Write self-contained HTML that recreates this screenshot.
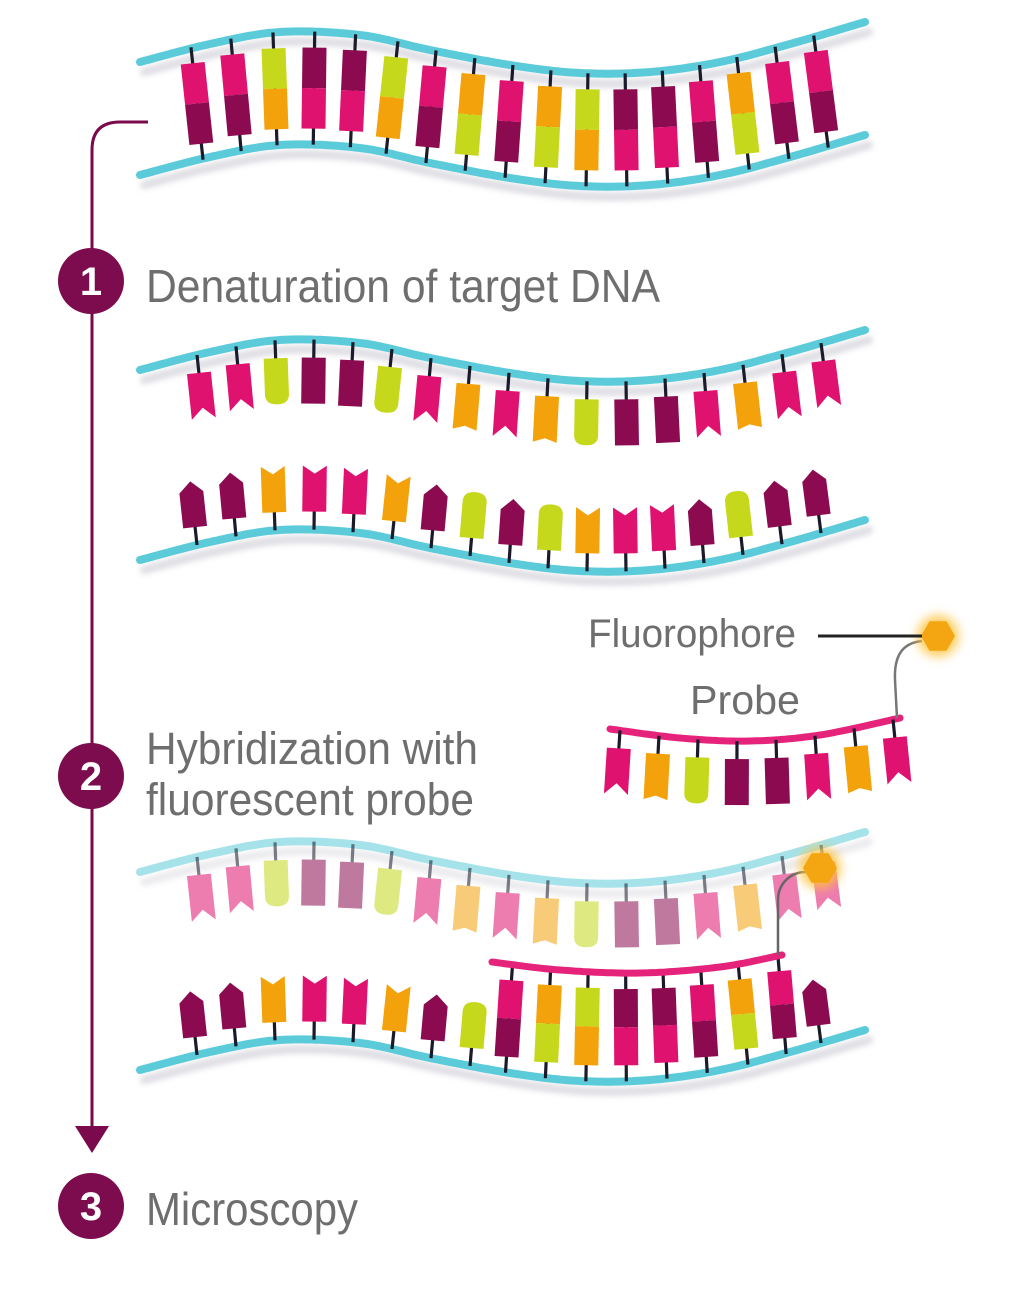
<!DOCTYPE html>
<html><head><meta charset="utf-8"><style>
html,body{margin:0;padding:0;background:#fff;width:1028px;height:1306px;overflow:hidden}
svg{display:block}
text{font-family:"Liberation Sans",Arial,sans-serif}
</style></head><body>
<svg id="s" width="1028" height="1306" viewBox="0 0 1028 1306" xmlns="http://www.w3.org/2000/svg">
<defs>
<filter id="sh" x="-10%" y="-50%" width="120%" height="300%"><feGaussianBlur stdDeviation="3"/></filter>
<filter id="gl" x="-100%" y="-100%" width="300%" height="300%"><feGaussianBlur stdDeviation="5"/></filter>
</defs>
<g id="g"></g>
<path d="M148,122 L120,122 Q92,122 92,150 L92,1130" fill="none" stroke="#7a0a4b" stroke-width="3"/>
<polygon points="75,1126 109,1126 92,1153" fill="#7a0a4b"/>
<circle cx="91" cy="281" r="33" fill="#7d0c4e"/>
<circle cx="91" cy="776" r="33" fill="#7d0c4e"/>
<circle cx="91" cy="1206" r="33" fill="#7d0c4e"/>
<text x="91" y="295" text-anchor="middle" fill="#fff" font-weight="bold" font-size="40">1</text>
<text x="91" y="790" text-anchor="middle" fill="#fff" font-weight="bold" font-size="40">2</text>
<text x="91" y="1220" text-anchor="middle" fill="#fff" font-weight="bold" font-size="40">3</text>
<g fill="#6e6e6e">
<text x="146" y="302" font-size="46" textLength="514" lengthAdjust="spacingAndGlyphs">Denaturation of target DNA</text>
<text x="146" y="764" font-size="45" textLength="332" lengthAdjust="spacingAndGlyphs">Hybridization with</text>
<text x="146" y="815" font-size="45" textLength="328" lengthAdjust="spacingAndGlyphs">fluorescent probe</text>
<text x="146" y="1225" font-size="46" textLength="212" lengthAdjust="spacingAndGlyphs">Microscopy</text>
<text x="588" y="647" font-size="40" textLength="208" lengthAdjust="spacingAndGlyphs">Fluorophore</text>
<text x="690" y="714" font-size="41" textLength="110" lengthAdjust="spacingAndGlyphs">Probe</text>
</g>
<line x1="818" y1="636" x2="922" y2="636" stroke="#222" stroke-width="3"/>
</svg>
<script>
(function(){
var NS="http://www.w3.org/2000/svg",G=document.getElementById('g');
function el(t,a,p){var e=document.createElementNS(NS,t);for(var k in a)e.setAttribute(k,a[k]);(p||G).appendChild(e);return e;}
function cr(pts){var s=[];for(var i=0;i<pts.length-1;i++){var p0=pts[Math.max(0,i-1)],p1=pts[i],p2=pts[i+1],p3=pts[Math.min(pts.length-1,i+2)];
for(var j=0;j<20;j++){var t=j/20,t2=t*t,t3=t2*t;var f=function(a,b,c,d){return 0.5*((2*b)+(-a+c)*t+(2*a-5*b+4*c-d)*t2+(-a+3*b-3*c+d)*t3)};
s.push([f(p0[0],p1[0],p2[0],p3[0]),f(p0[1],p1[1],p2[1],p3[1])]);}}s.push(pts[pts.length-1]);
var fn=function(x){for(var i=0;i<s.length-1;i++){if(x<=s[i+1][0]){var u=(x-s[i][0])/(s[i+1][0]-s[i][0]);return s[i][1]+u*(s[i+1][1]-s[i][1]);}}return s[s.length-1][1];};
fn.d="M"+s.map(function(p){return p[0].toFixed(1)+","+p[1].toFixed(1)}).join(" L");return fn;}
var SH=[[140,0],[210,-18],[280,-30],[360,-27],[430,-12],[510,3],[580,11],[650,10],[720,0],[790,-18],[865,-40]];
function off(o){return cr(SH.map(function(p){return [p[0],p[1]+o]}));}
function slope(f,x){return (f(x+3)-f(x-3))/6;}
var C={P:"#e0126f",U:"#8c0b50",L:"#c6d81c",O:"#f4a20c"};
var TOP="PPLUULPOPOLUUPOPP".split(""),BOT="UUOPPOULULOPPULUU".split("");
var XS=[];for(var i=0;i<17;i++)XS.push(197+39*i);
function backbone(f,col,op){el('path',{d:f.d,transform:"translate(4,10)",fill:"none",stroke:"#b9b9c6","stroke-width":8,"stroke-linecap":"round",filter:"url(#sh)",opacity:0.5*(op||1)});
el('path',{d:f.d,fill:"none",stroke:col,"stroke-width":8,"stroke-linecap":"round"});}
function stick(g,y1,y2,op){el('line',{x1:0,y1:y1,x2:0,y2:y2,stroke:"#1a1a2a","stroke-width":3.2,opacity:op||1},g);}
function grp(x,y,ang,op){return el('g',{transform:"translate("+x+","+y+") rotate("+ang+")",opacity:op||1});}
var W=12;
function shapeDown(g,c,h){var d,w=W;
if(c=="P")d="M-"+w+",0H"+w+"V"+h+"L0,"+(h-11)+"L-"+w+","+h+"Z";
else if(c=="L")d="M-"+w+",0H"+w+"V"+(h-10)+"Q"+w+","+h+" 0,"+h+"Q-"+w+","+h+" -"+w+","+(h-10)+"Z";
else if(c=="O")d="M-"+w+",0H"+w+"V"+h+"L0,"+(h-4)+"L-"+w+","+h+"Z";
else d="M-"+w+",0H"+w+"V"+h+"H-"+w+"Z";
el('path',{d:d,fill:C[c]},g);}
function shapeUp(g,c,h){var d,w=W;
if(c=="U")d="M-"+w+",0H"+w+"V"+(-h+11)+"L0,"+(-h)+"L-"+w+","+(-h+11)+"Z";
else if(c=="L")d="M-"+w+",0H"+w+"V"+(-h+10)+"Q"+w+","+(-h)+" 0,"+(-h)+"Q-"+w+","+(-h)+" -"+w+","+(-h+10)+"Z";
else if(c=="O"||c=="P")d="M-"+w+",0H"+w+"V"+(-h)+"L0,"+(-h+8)+"L-"+w+","+(-h)+"Z";
else d="M-"+w+",0H"+w+"V"+(-h)+"H-"+w+"Z";
el('path',{d:d,fill:C[c]},g);}
function ang(f,x){return 0.45*Math.atan(slope(f,x))*180/Math.PI;}
function paired(x,ft,fb,ct,cb){var y1=ft(x),y2=fb(x),L=y2-y1,a=ang(ft,x)*0.5+ang(fb,x)*0.5;
var g=grp(x,(y1+y2)/2,a);stick(g,-L/2,L/2);var b=L/2-16;
el('rect',{x:-W,y:-b,width:2*W,height:b,fill:C[ct]},g);el('rect',{x:-W,y:0,width:2*W,height:b,fill:C[cb]},g);}
function single(x,f,c,dir,op,h){h=h||46;var y=f(x),g=grp(x,y,ang(f,x),op);
if(dir>0){stick(g,0,22);var g2=el('g',{transform:"translate(0,18)"},g);shapeDown(g2,c,h);}
else{stick(g,-22,0);var g2=el('g',{transform:"translate(0,-18)"},g);shapeUp(g2,c,h);}}
var BB="#5ccbd9";
var t1=off(62),b1=off(175);
backbone(t1,BB);backbone(b1,BB);
XS.forEach(function(x,i){paired(x,t1,b1,TOP[i],BOT[i]);});
var t2=off(370),b2=off(560);
backbone(t2,BB);backbone(b2,BB);
XS.forEach(function(x,i){single(x,t2,TOP[i],1);single(x,b2,BOT[i],-1);});
var p1=cr([[610,729],[680,738],[750,741],[820,735],[900,718]]);
el('path',{d:p1.d,fill:"none",stroke:"#e5237b","stroke-width":7,"stroke-linecap":"round"});
for(var j=0;j<8;j++){single(620+39*j,p1,TOP[8+j],1);}
el('path',{d:"M922,641 C902,643 894,656 895,680 L897,718",fill:"none",stroke:"#777","stroke-width":2.5});
function hex(cx,cy,r){var p=[];for(var k=0;k<6;k++){var a=Math.PI/3*k;p.push((cx+r*Math.cos(a)).toFixed(1)+","+(cy+r*Math.sin(a)).toFixed(1));}
el('circle',{cx:cx,cy:cy,r:r+4,fill:"#ffc23a",filter:"url(#gl)",opacity:0.8});el('polygon',{points:p.join(" "),fill:"#f3a512"});}
hex(938,636,17);
var t3=off(872),b3=off(1070);
backbone(t3,"#a6e2ea",0.6);backbone(b3,BB);
XS.forEach(function(x,i){single(x,t3,TOP[i],1,0.55);});
var p3=cr([[492,962],[560,970],[640,973],[720,967],[782,955]]);
XS.forEach(function(x,i){if(i>=8&&i<=15){paired(x,p3,b3,TOP[i],BOT[i]);}else single(x,b3,BOT[i],-1);});
el('path',{d:p3.d,fill:"none",stroke:"#e5237b","stroke-width":7,"stroke-linecap":"round"});
el('path',{d:"M806,872 C790,872 778,884 778,900 L778,955",fill:"none",stroke:"#666","stroke-width":2.5});
hex(820,868,17);
})();
</script>
</body></html>
